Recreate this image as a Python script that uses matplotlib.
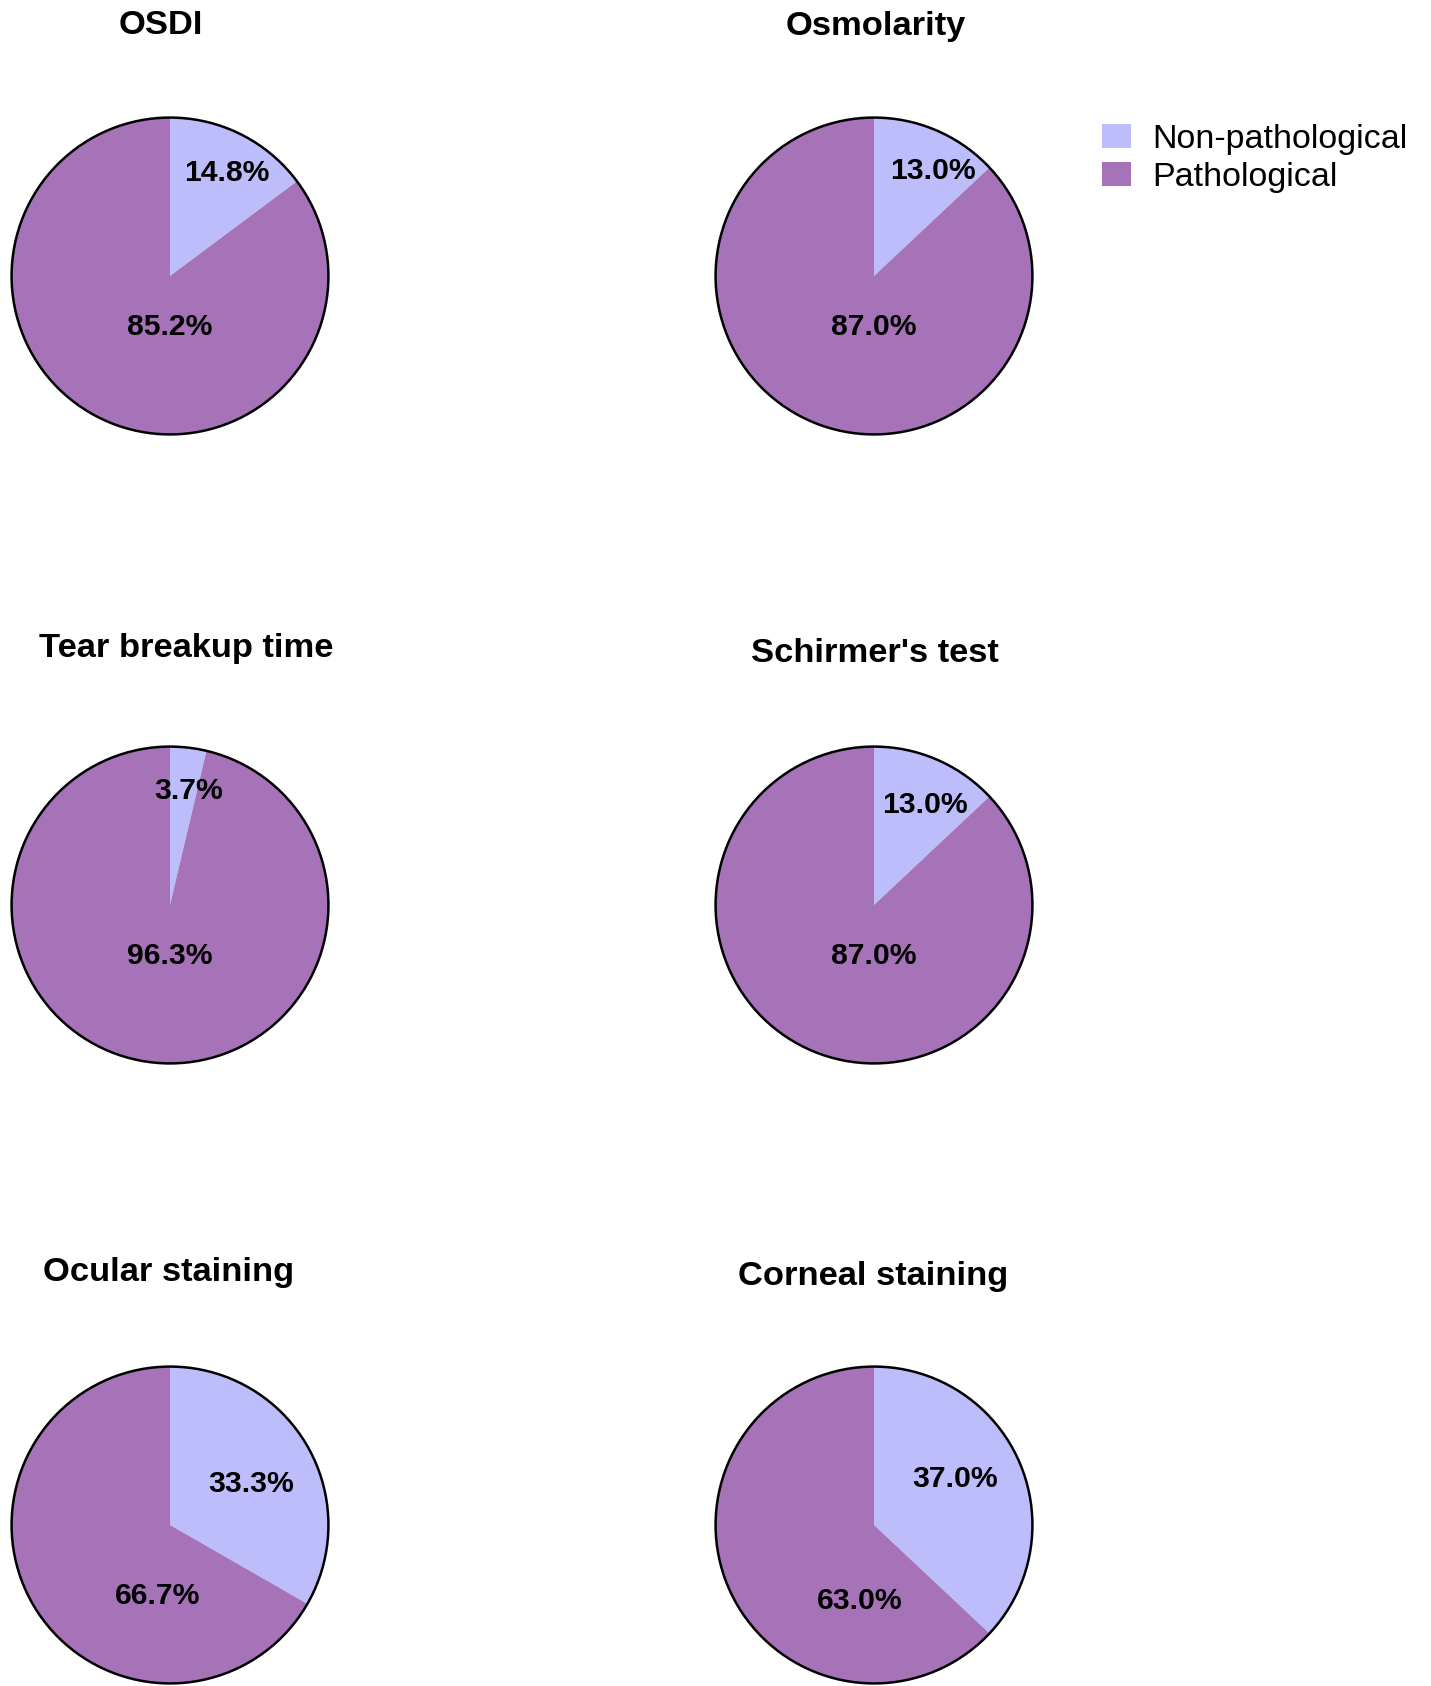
import numpy as np
import matplotlib
matplotlib.use("Agg")
import matplotlib.pyplot as plt
from matplotlib.patches import Circle, Patch

plt.rcParams['font.family'] = ['Liberation Sans', 'DejaVu Sans']

titles = ["OSDI", "Osmolarity", "Tear breakup time", "Schirmer's test",
          "Ocular staining", "Corneal staining"]
categories = ["Non-pathological", "Pathological"]
non_path = [14.8, 13.0, 3.7, 13.0, 33.3, 37.0]
path = [85.2, 87.0, 96.3, 87.0, 66.7, 63.0]

colors = ["#BDBDFB", "#A672B8"]

# layout (pixels of the full figure)
W, H = 1431, 1686
R = 160
centers = [(170, 276), (874, 276), (170, 905), (874, 905), (170, 1525), (874, 1525)]
title_pos = [(161, 26), (876, 26), (186, 649), (875, 654), (169, 1272), (873, 1276)]
# label offsets in pie units (small slice, big slice)
label_pos = [
    [(0.36, 0.65), (0.0, -0.32)],
    [(0.37, 0.66), (0.0, -0.32)],
    [(0.115, 0.72), (0.0, -0.32)],
    [(0.32, 0.63), (0.0, -0.32)],
    [(0.51, 0.26), (-0.08, -0.45)],
    [(0.51, 0.29), (-0.09, -0.48)],
]

fig = plt.figure(figsize=(W / 100, H / 100), dpi=100)

for i in range(len(titles)):
    cx, cy = centers[i]
    ax = fig.add_axes([(cx - R) / W, (H - cy - R) / H, 2 * R / W, 2 * R / H])
    wedges, texts, autotexts = ax.pie(
        [non_path[i], path[i]], colors=colors, startangle=90, counterclock=False,
        autopct='%1.1f%%', wedgeprops=dict(linewidth=0),
        textprops=dict(fontsize=21.7, fontweight='bold', color='black'))
    for t, p in zip(autotexts, label_pos[i]):
        t.set_position(p)
        t.set_ha('center')
        t.set_va('center')
    ax.add_patch(Circle((0, 0), 1, fill=False, edgecolor='black', linewidth=1.8))
    ax.set_xlim(-1.01, 1.01)
    ax.set_ylim(-1.01, 1.01)
    ax.set_aspect('equal')
    ax.axis('off')
    tx, ty = title_pos[i]
    fig.text(tx / W, 1 - ty / H, titles[i], ha='center', va='center',
             fontsize=24.8, fontweight='bold')

handles = [Patch(facecolor=c, edgecolor='none') for c in colors]
fig.legend(handles, categories, loc='upper left',
           bbox_to_anchor=(1088 / W, 1 - 110 / H), frameon=False,
           fontsize=24.5, handlelength=0.85, handleheight=0.7,
           handletextpad=0.65, labelspacing=0.22, borderaxespad=0)

fig.savefig("out.png", dpi=100)
